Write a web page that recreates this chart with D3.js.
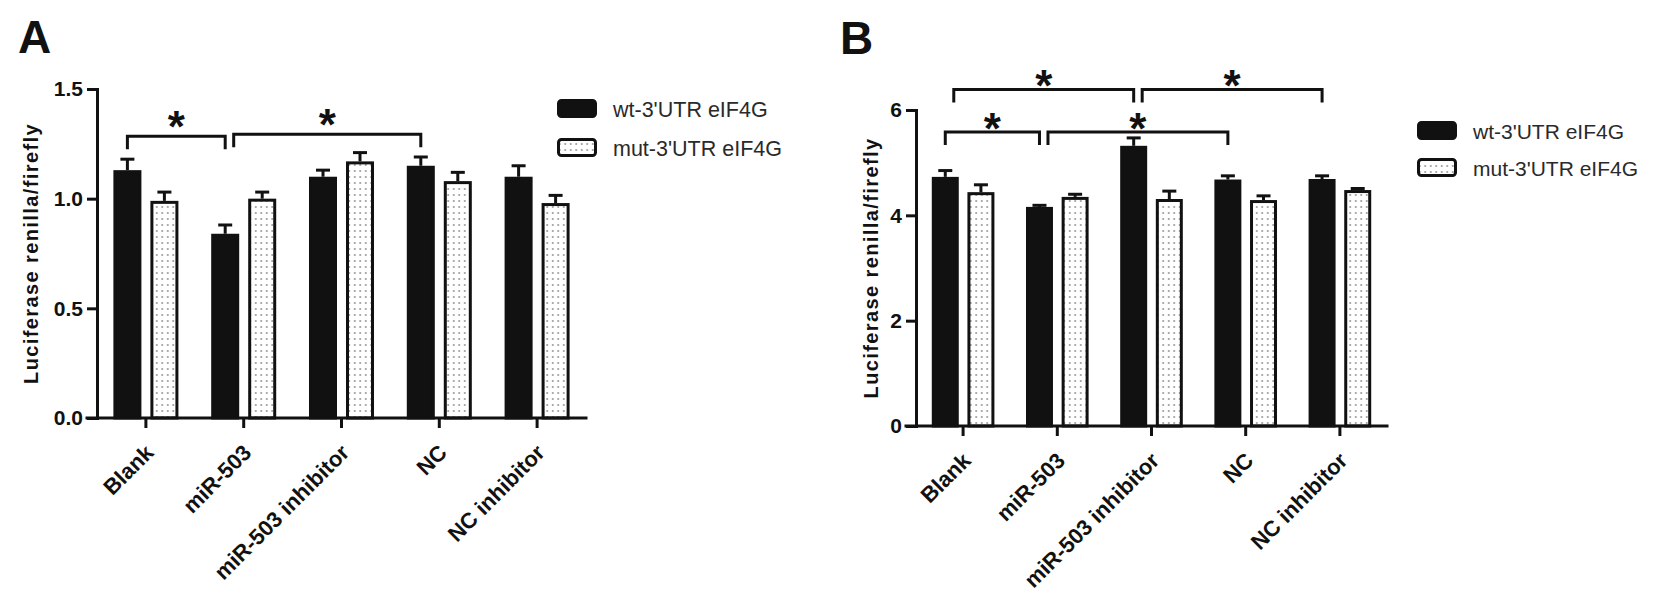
<!DOCTYPE html>
<html>
<head>
<meta charset="utf-8">
<script src="https://cdn.jsdelivr.net/npm/d3@7"></script>
<style>
  html, body { margin: 0; padding: 0; background: #fff; }
  svg { display: block; }
  text { font-family: Arial, "Liberation Sans", sans-serif; }
</style>
</head>
<body>
<svg id="chart" width="1661" height="602"></svg>
<script>
// ---------------- DATA ----------------
const categories = ["Blank", "miR-503", "miR-503 inhibitor", "NC", "NC inhibitor"];
const seriesNames = ["wt-3'UTR eIF4G", "mut-3'UTR eIF4G"];

// Panel A
const aWt     = [1.13, 0.84, 1.10, 1.15, 1.10];
const aWtErr  = [0.05, 0.04, 0.03, 0.04, 0.05];
const aMut    = [0.99, 1.00, 1.17, 1.08, 0.98];
const aMutErr = [0.04, 0.03, 0.04, 0.04, 0.035];
const aTicks  = [0, 0.5, 1.0, 1.5];
const aBrackets = [
  { from: "Blank",   to: "miR-503", level: 1.285, label: "*" },
  { from: "miR-503", to: "NC",      level: 1.294, label: "*" }
];

// Panel B
const bWt     = [4.73, 4.16, 5.32, 4.68, 4.69];
const bWtErr  = [0.12, 0.03, 0.15, 0.07, 0.06];
const bMut    = [4.44, 4.35, 4.31, 4.29, 4.48];
const bMutErr = [0.14, 0.05, 0.15, 0.08, 0.03];
const bTicks  = [0, 2, 4, 6];
const bBrackets = [
  { from: "Blank",             to: "miR-503",      level: 5.58, label: "*" },
  { from: "miR-503",           to: "NC",           level: 5.58, label: "*" },
  { from: "Blank",             to: "miR-503 inhibitor", level: 6.39, label: "*" },
  { from: "miR-503 inhibitor", to: "NC inhibitor", level: 6.39, label: "*" }
];

const yLabel = "Luciferase renilla/firefly";

// ---------------- DRAW ----------------
const svg = d3.select("#chart");
const defs = svg.append("defs");
const pat = defs.append("pattern")
  .attr("id", "dots").attr("patternUnits", "userSpaceOnUse")
  .attr("width", 5.5).attr("height", 6);
pat.append("rect").attr("width", 5.5).attr("height", 6).attr("fill", "#fff");
pat.append("circle").attr("cx", 2.75).attr("cy", 3).attr("r", 1.05).attr("fill", "#9a9a9a");

const INK = "#111";

function drawPanel(cfg) {
  const g = svg.append("g");
  const x = d3.scaleBand().domain(categories).range([cfg.left, cfg.right]).padding(0);
  const y = d3.scaleLinear().domain([0, cfg.ticks[cfg.ticks.length - 1]]).range([cfg.bottom, cfg.top]);
  const xs = d3.scaleBand().domain(seriesNames).range([0, x.bandwidth()])
    .paddingInner(0.243).paddingOuter(0.443);

  const rows = [];
  categories.forEach((c, i) => {
    rows.push({ cat: c, s: seriesNames[0], v: cfg.wt[i], e: cfg.wtErr[i] });
    rows.push({ cat: c, s: seriesNames[1], v: cfg.mut[i], e: cfg.mutErr[i] });
  });

  // Error bars (drawn first so bar top covers the joint)
  const eg = g.append("g");
  rows.forEach(r => {
    const cx = x(r.cat) + xs(r.s) + xs.bandwidth() / 2;
    eg.append("line").attr("x1", cx).attr("x2", cx)
      .attr("y1", y(r.v)).attr("y2", y(r.v + r.e))
      .attr("stroke", INK).attr("stroke-width", 3);
    eg.append("line").attr("x1", cx - 7).attr("x2", cx + 7)
      .attr("y1", y(r.v + r.e)).attr("y2", y(r.v + r.e))
      .attr("stroke", INK).attr("stroke-width", 3);
  });

  // Bars
  g.append("g").selectAll("rect").data(rows).join("rect")
    .attr("x", d => x(d.cat) + xs(d.s) + 1.5)
    .attr("y", d => y(d.v) + 1.5)
    .attr("width", xs.bandwidth() - 3)
    .attr("height", d => y(0) - y(d.v) - 1.5)
    .attr("fill", d => d.s === seriesNames[0] ? INK : "url(#dots)")
    .attr("stroke", INK).attr("stroke-width", 3);

  // Y axis
  const ya = g.append("g").attr("transform", `translate(${cfg.left},0)`)
    .call(d3.axisLeft(y).tickValues(cfg.ticks).tickFormat(d3.format(cfg.fmt))
      .tickSize(10).tickSizeOuter(0).tickPadding(4));
  ya.select(".domain").attr("stroke", INK).attr("stroke-width", 3).attr("stroke-linecap", "square");
  ya.selectAll(".tick line").attr("stroke", INK).attr("stroke-width", 3);
  ya.selectAll(".tick text").attr("fill", INK).attr("font-size", 21).attr("font-weight", "bold")
    .attr("font-family", "Arial, 'Liberation Sans', sans-serif");

  // X axis
  const xa = g.append("g").attr("transform", `translate(0,${cfg.bottom})`)
    .call(d3.axisBottom(x).tickSize(10).tickSizeOuter(0));
  xa.select(".domain").attr("stroke", INK).attr("stroke-width", 3).attr("stroke-linecap", "square")
    .attr("d", `M${cfg.left - 10},0H${cfg.right}`);
  xa.selectAll(".tick line").attr("stroke", INK).attr("stroke-width", 3);
  xa.selectAll(".tick text")
    .attr("x", 0).attr("y", 0).attr("dy", 0)
    .attr("text-anchor", "end")
    .attr("transform", "translate(9,36) rotate(-45)")
    .attr("fill", INK).attr("font-size", 22).attr("font-weight", "bold")
    .attr("font-family", "Arial, 'Liberation Sans', sans-serif");

  // Y label
  g.append("text")
    .attr("transform", `translate(${cfg.yLabelX},${(cfg.top + cfg.bottom) / 2}) rotate(-90)`)
    .attr("text-anchor", "middle").attr("font-size", 20).attr("font-weight", "bold")
    .attr("letter-spacing", 1.4).attr("fill", INK).text(yLabel);

  // Panel letter
  g.append("text").attr("x", cfg.letterX).attr("y", cfg.letterY)
    .attr("font-size", 46).attr("font-weight", "bold").attr("fill", INK).text(cfg.letter);

  // Significance brackets
  const used = {};
  const wtCenter = c => x(c) + xs(seriesNames[0]) + xs.bandwidth() / 2;
  cfg.brackets.forEach(b => {
    const kf = used[b.from] || 0, kt = used[b.to] || 0;
    used[b.from] = kf + 1; used[b.to] = kt + 1;
    const x1 = wtCenter(b.from) + kf * 8.5;
    const x2 = wtCenter(b.to) + kt * 8.5;
    const yy = y(b.level);
    g.append("path")
      .attr("d", `M${x1},${yy + 13}V${yy}H${x2}V${yy + 13}`)
      .attr("fill", "none").attr("stroke", INK).attr("stroke-width", 3);
    g.append("text").attr("x", (x1 + x2) / 2).attr("y", yy - cfg.starGap + 25)
      .attr("text-anchor", "middle").attr("font-size", 44).attr("font-weight", "bold")
      .attr("fill", INK).text(b.label);
  });

  // Legend
  const lg = g.append("g").attr("transform", `translate(${cfg.legX},${cfg.legY})`);
  seriesNames.forEach((s, i) => {
    const yy = i * cfg.legStep;
    lg.append("rect").attr("x", 1.5).attr("y", yy + 1.5).attr("width", 37).attr("height", 16)
      .attr("rx", 3).attr("fill", i === 0 ? INK : "url(#dots)")
      .attr("stroke", INK).attr("stroke-width", 3);
    lg.append("text").attr("x", 56).attr("y", yy + 18)
      .attr("font-size", cfg.legFont).attr("fill", "#2a2a2a").text(s);
  });
}

drawPanel({
  letter: "A", letterX: 18, letterY: 53,
  left: 97, right: 586, bottom: 418, top: 89,
  ticks: aTicks, fmt: ".1f",
  wt: aWt, wtErr: aWtErr, mut: aMut, mutErr: aMutErr,
  brackets: aBrackets, starGap: 19,
  yLabelX: 38,
  legX: 557, legY: 99, legStep: 39, legFont: 21.5
});

drawPanel({
  letter: "B", letterX: 840, letterY: 54,
  left: 916, right: 1387, bottom: 426, top: 110,
  ticks: bTicks, fmt: "d",
  wt: bWt, wtErr: bWtErr, mut: bMut, mutErr: bMutErr,
  brackets: bBrackets, starGap: 13,
  yLabelX: 878,
  legX: 1417, legY: 121, legStep: 37, legFont: 21
});
</script>
</body>
</html>
